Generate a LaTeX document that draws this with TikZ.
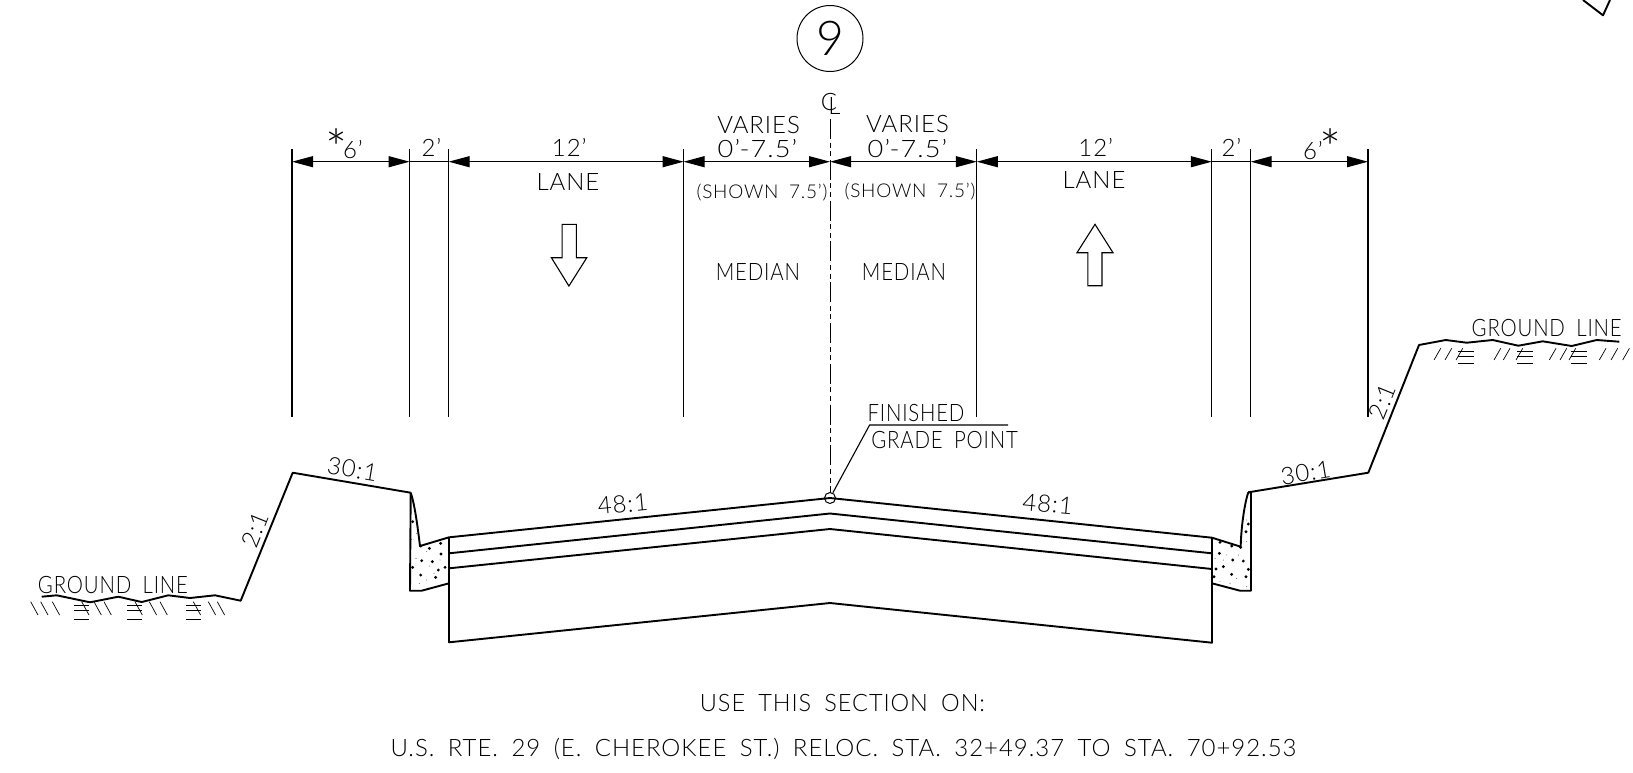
\documentclass[tikz,border=0pt]{standalone}
\usepackage{fontspec}
\setmainfont[LetterSpace=4,WordSpace=1.8]{Lato Light}
\usetikzlibrary{arrows.meta}
\newcommand{\tightxt}[1]{\scalebox{.85}[1]{#1}}
\newcommand{\widetxt}[1]{\scalebox{1.13}[1]{#1}}
\tikzset{
  dimline/.style={{Triangle[length=10.5pt,width=5.5pt]}-{Triangle[length=10.5pt,width=5.5pt]},line width=.55pt},
  extline/.style={line width=.55pt},
  profile/.style={line width=.95pt,line join=round},
  hatch/.style={line width=.35pt},
  lbl/.style={font=\fontsize{12}{12}\selectfont,inner sep=0pt},
  starlbl/.style={font=\fontsize{26}{26}\selectfont,inner sep=0pt},
  smalllbl/.style={font=\fontsize{9.5}{10}\selectfont,inner sep=0pt}
}
\begin{document}
\begin{tikzpicture}[x=.5pt,y=-.5pt]
\useasboundingbox (0,0) rectangle (1633,772);
\coordinate (a1) at (292,161.7);
\coordinate (a2) at (409.6,161.7);
\coordinate (a3) at (448.6,161.7);
\coordinate (a4) at (683.6,161.7);
\coordinate (cl) at (830,161.7);
\coordinate (a5) at (976.8,161.7);
\coordinate (a6) at (1211.8,161.7);
\coordinate (a7) at (1250.7,161.7);
\coordinate (a8) at (1368,161.7);
\foreach \p in {292,409.6,448.6,683.6,976.8,1211.8,1250.7,1368}
  \draw[extline] (\p,149) -- (\p,416.6);
\draw[dimline] (a1) -- (a2);
\draw[extline] (a2) -- (a3);
\draw[dimline] (a3) -- (a4);
\draw[dimline] (a4) -- (cl);
\draw[dimline] (cl) -- (a5);
\draw[dimline] (a5) -- (a6);
\draw[extline] (a6) -- (a7);
\draw[dimline] (a7) -- (a8);
\draw[line width=.45pt,dash pattern=on 10pt off 1.8pt on 2.5pt off 1.8pt on 2.5pt off 1.8pt] (830,119) -- (830,492.5);
\node[draw,circle,line width=.5pt,minimum size=33pt,inner sep=0pt] (nine) at (830,38.5) {};
\node[font=\fontsize{24}{24}\selectfont,inner sep=0pt] (ninetxt) at (830,38.5) {9};
\node[lbl] (clc) at (829,102) {C};
\node[lbl] (cll) at (834.5,106) {L};
\node[lbl] (dimA) at (352.9,149.3) {6'};
\node[starlbl] (starA) at (337,148) {*};
\node[lbl] (dimB) at (431.4,147.3) {2'};
\node[lbl] (dimC) at (569.3,147.3) {12'};
\node[lbl] (variesA) at (758.6,125) {VARIES};
\node[lbl] (rangeA) at (757.5,148.3) {\widetxt{0'-7.5'}};
\node[lbl] (laneA) at (568,181.7) {LANE};
\node[smalllbl] (shownA) at (762,192.3) {(SHOWN 7.5')};
\node[lbl] (medianA) at (757.9,271.7) {\tightxt{MEDIAN}};
\node[lbl] (variesB) at (907.5,124.3) {VARIES};
\node[lbl] (rangeB) at (907.5,148.3) {\widetxt{0'-7.5'}};
\node[smalllbl] (shownB) at (910,191.7) {(SHOWN 7.5')};
\node[lbl] (medianB) at (904,271.7) {\tightxt{MEDIAN}};
\node[lbl] (dimD) at (1095.7,147.3) {12'};
\node[lbl] (laneB) at (1094,180) {LANE};
\node[lbl] (dimE) at (1231.4,147.3) {2'};
\node[lbl] (dimF) at (1313,150.7) {6'};
\node[starlbl] (starB) at (1330.7,148) {*};
\draw[extline] (562.1,224.3) -- (576.4,224.3) -- (576.4,257.7) -- (586.8,257.7) -- (568.9,286) -- (551.4,257.7) -- (562.1,257.7) -- cycle;
\draw[extline] (1087.9,285.7) -- (1102,285.7) -- (1102,252.7) -- (1113,252.7) -- (1095,224.3) -- (1077,252.7) -- (1087.9,252.7) -- cycle;
\draw[profile] (41.7,596.7) -- (56.7,595.3) -- (90,602.3) -- (118.3,596.7) -- (141.7,602) -- (168.3,595.3) -- (190,598) -- (215,595.3) -- (240.7,600.7) -- (292.7,472.7) -- (410.7,492.7);
\draw[profile] (1248.3,492.3) -- (1368.3,472.7) -- (1419,345) -- (1445.7,340) -- (1466.7,342.7) -- (1492.7,340) -- (1518.3,345.7) -- (1542.7,341.3) -- (1571.7,346) -- (1596.7,340) -- (1619.3,341.7);
\draw[profile] (410.7,492.7) -- (410,590.7) -- (421.7,590.7) -- (449,583.3);
\draw[profile] (410.7,492.7) .. controls (415,505) and (418,530) .. (420,546) -- (449,537.3);
\draw[profile] (1248.3,492.3) -- (1251,492.3) -- (1251,590.7) -- (1240,590.7) -- (1212,583.3);
\draw[profile] (1248.3,492.3) .. controls (1244,505) and (1241,530) .. (1240.7,546.7) -- (1212,537.7);
\draw[profile] (449,537.3) -- (449,642.3) -- (830,603) -- (1212,642.7) -- (1212,537.7);
\draw[profile] (449,537.3) -- (830,498) -- (1212,537.7);
\draw[profile] (449,553.3) -- (830,513.5) -- (1212,553.3);
\draw[profile] (449,568.3) -- (830,529) -- (1212,569);
\begin{scope}[shift={(390,480)},x=.1667pt,y=-.1667pt]
\foreach \p/\q in {68/125,152/190,118/205,153/222,95/242,127/245,165/262,145/270,68/262,92/285,137/292,92/198}
  \fill (\p,\q) circle (.8pt);
\foreach \p/\q in {110/215,78/235,118/258,65/178,110/300,88/310,150/240,132/280,80/160}
  \fill (\p,\q) circle (.2pt);
\end{scope}
\begin{scope}[shift={(1190,480)},x=.1667pt,y=-.1667pt]
\foreach \p/\q in {175/132,168/155,90/187,125/198,152/202,88/220,128/240,100/260,160/243,78/267,175/268,72/290,125/283,168/290}
  \fill (\p,\q) circle (.8pt);
\foreach \p/\q in {170/120,75/235,110/225,145/225,120/310,140/295,170/320,170/185,100/240,90/305}
  \fill (\p,\q) circle (.2pt);
\end{scope}
\foreach \p in {30.7,40.7,52.3,81.7,94,104,135,149.3,160,193.3,208.3,217.3}
  \draw[hatch] (\p,601.7) -- (\p+7.3,615);
\foreach \p in {74.3,126.7,186} {
  \draw[hatch] (\p,605.7) -- (\p+15,605.7);
  \draw[hatch] (\p,610.7) -- (\p+15,610.7);
  \draw[hatch] (\p,619.3) -- (\p+15,619.3);
}
\foreach \p in {1434,1445,1456,1494,1503.3,1516,1549.3,1560,1569,1599.3,1611,1622.7}
  \draw[hatch] (\p,360) -- (\p+6.7,348.3);
\foreach \p in {1458.3,1517.3,1570.7} {
  \draw[hatch] (\p,351) -- (\p+16,351);
  \draw[hatch] (\p,356.7) -- (\p+16,356.7);
  \draw[hatch] (\p,363) -- (\p+16,363);
}
\node[lbl] (groundA) at (113,585) {\tightxt{GROUND LINE}};
\node[lbl] (groundB) at (1546.7,328.3) {\tightxt{GROUND LINE}};
\node[lbl,rotate=-9.5] (slopeA) at (352.3,469.3) {30:1};
\node[lbl,rotate=68] (slopeB) at (255,530) {2:1};
\node[lbl,rotate=9.5] (slopeC) at (1305.7,472.7) {30:1};
\node[lbl,rotate=68] (slopeD) at (1382.5,401.7) {2:1};
\node[lbl,rotate=5.5] (slopeE) at (622.8,504) {48:1};
\node[lbl,rotate=-5.5] (slopeF) at (1047.7,504) {48:1};
\node[draw,circle,line width=.5pt,minimum size=5.5pt,inner sep=0pt] (gp) at (830,498) {};
\coordinate (ldrA) at (869.6,425);
\coordinate (ldrB) at (1008,425);
\draw[extline] (gp) -- (ldrA) -- (ldrB);
\node[lbl] (finished) at (916,413.5) {\tightxt{FINISHED}};
\node[lbl] (gradept) at (944.6,440.5) {\tightxt{GRADE POINT}};
\node[lbl] (useon) at (842.5,703) {\scalebox{.98}[1]{USE THIS SECTION ON:}};
\node[lbl] (route) at (843.5,748.8) {U.S. RTE. 29 (E. CHEROKEE ST.) RELOC. STA. 32+49.37 TO STA. 70+92.53};
\draw[profile] (1583,0) -- (1603,15.3) -- (1610,0);
\end{tikzpicture}
\end{document}
